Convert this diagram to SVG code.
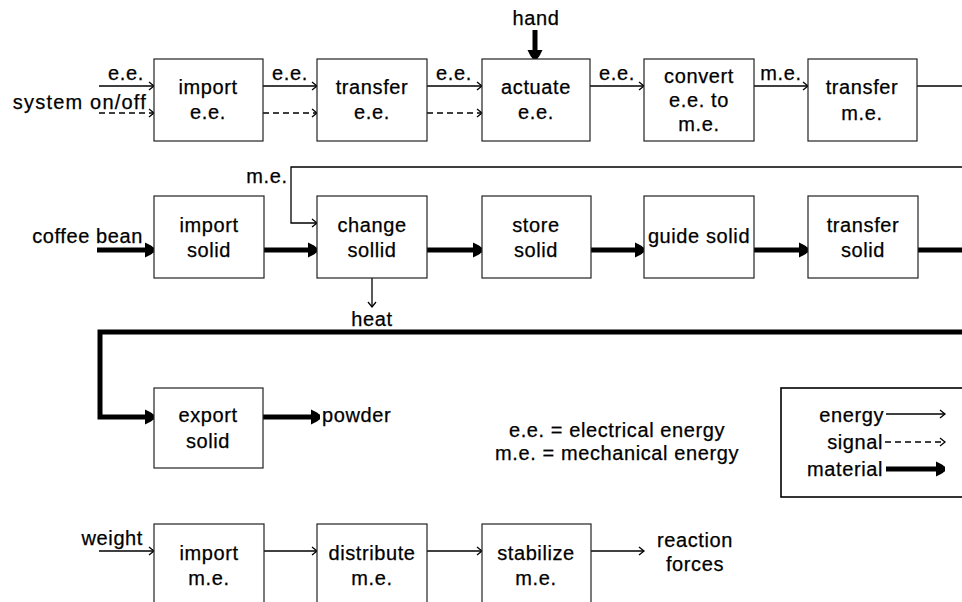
<svg xmlns="http://www.w3.org/2000/svg" width="962" height="602" viewBox="0 0 962 602">
<style>
text{font-family:"Liberation Sans",Arial,sans-serif;font-size:20px;fill:#000;letter-spacing:0.6px;stroke:#000;stroke-width:0.25}
.c{text-anchor:middle}
.e{text-anchor:end}
rect.box{fill:#fff;stroke:#222;stroke-width:1.2}
.en{fill:none;stroke:#000;stroke-width:1.3}
.sg{fill:none;stroke:#000;stroke-width:1.3;stroke-dasharray:6 4}
.mt{fill:none;stroke:#000;stroke-width:5}
</style>
<defs>
<marker id="open" viewBox="0 0 10 10" markerWidth="10" markerHeight="10" refX="8" refY="5" orient="auto" markerUnits="userSpaceOnUse"><path d="M3,1 L8,5 L3,9" fill="none" stroke="#000" stroke-width="1.3"/></marker>
<marker id="solid" viewBox="0 0 12 16" markerWidth="12" markerHeight="16" refX="10" refY="8" orient="auto" markerUnits="userSpaceOnUse"><path d="M1,0.5 L6,3 Q10,5 10,8 Q10,11 6,13 L1,15.5 Z" fill="#000"/></marker>
</defs>
<rect width="962" height="602" fill="#fff"/>

<g id="connectors">
<path class="en" d="M99 86 H154" marker-end="url(#open)"/>
<path class="sg" d="M99 113 H154" marker-end="url(#open)"/>
<path class="en" d="M263 86 H317" marker-end="url(#open)"/>
<path class="sg" d="M263 113 H317" marker-end="url(#open)"/>
<path class="en" d="M427 86 H482" marker-end="url(#open)"/>
<path class="sg" d="M427 113 H482" marker-end="url(#open)"/>
<path class="en" d="M590 86 H644" marker-end="url(#open)"/>
<path class="en" d="M754 86 H808" marker-end="url(#open)"/>
<path class="en" d="M917 86 H962"/>
<path class="mt" d="M535 30 V59" marker-end="url(#solid)"/>
<path class="mt" d="M97 250 H154" marker-end="url(#solid)"/>
<path class="mt" d="M264 250 H317" marker-end="url(#solid)"/>
<path class="mt" d="M427 250 H482" marker-end="url(#solid)"/>
<path class="mt" d="M591 250 H644" marker-end="url(#solid)"/>
<path class="mt" d="M754 250 H808" marker-end="url(#solid)"/>
<path class="mt" d="M918 250 H962"/>
<path class="en" d="M962 167 H291 V223 H317" marker-end="url(#open)"/>
<path class="en" d="M372 278 V307" marker-end="url(#open)"/>
<path class="mt" d="M962 332 H100 V417 H154" marker-end="url(#solid)"/>
<path class="mt" d="M263 417 H320" marker-end="url(#solid)"/>
<path class="en" d="M99 551 H154" marker-end="url(#open)"/>
<path class="en" d="M264 551 H317" marker-end="url(#open)"/>
<path class="en" d="M427 551 H482" marker-end="url(#open)"/>
<path class="en" d="M591 551 H644" marker-end="url(#open)"/>
</g>

<g id="labels">
<text class="c" x="126" y="80">e.e.</text>
<text class="e" x="147" y="109" style="letter-spacing:1.2px">system on/off</text>
<text class="c" x="290" y="80">e.e.</text>
<text class="c" x="454" y="80">e.e.</text>
<text class="c" x="617" y="80">e.e.</text>
<text class="c" x="781" y="80">m.e.</text>
<text class="c" x="536" y="25">hand</text>
<text class="e" x="143" y="243">coffee bean</text>
<text class="c" x="267" y="183">m.e.</text>
<text class="c" x="372" y="326">heat</text>
<text x="322" y="422">powder</text>
<text class="e" x="143" y="545">weight</text>
<text class="c" x="695" y="547">reaction</text>
<text class="c" x="695" y="571">forces</text>
<text class="c" x="617" y="437">e.e. = electrical energy</text>
<text class="c" x="617" y="460">m.e. = mechanical energy</text>
</g>

<g id="import-ee"><rect class="box" x="154" y="59" width="109" height="82"/><text class="c" x="208" y="94">import</text><text class="c" x="208" y="119">e.e.</text></g>
<g id="transfer-ee"><rect class="box" x="317" y="59" width="110" height="82"/><text class="c" x="372" y="94">transfer</text><text class="c" x="372" y="119">e.e.</text></g>
<g id="actuate-ee"><rect class="box" x="482" y="59" width="108" height="82"/><text class="c" x="536" y="94">actuate</text><text class="c" x="536" y="119">e.e.</text></g>
<g id="convert-ee-me"><rect class="box" x="644" y="59" width="110" height="82"/><text class="c" x="699" y="83">convert</text><text class="c" x="699" y="107">e.e. to</text><text class="c" x="699" y="131">m.e.</text></g>
<g id="transfer-me"><rect class="box" x="808" y="59" width="109" height="82"/><text class="c" x="862" y="94">transfer</text><text class="c" x="862" y="120">m.e.</text></g>

<g id="import-solid"><rect class="box" x="154" y="196" width="110" height="82"/><text class="c" x="209" y="232">import</text><text class="c" x="209" y="257">solid</text></g>
<g id="change-sollid"><rect class="box" x="317" y="196" width="110" height="82"/><text class="c" x="372" y="232">change</text><text class="c" x="372" y="257">sollid</text></g>
<g id="store-solid"><rect class="box" x="482" y="196" width="109" height="82"/><text class="c" x="536" y="232">store</text><text class="c" x="536" y="257">solid</text></g>
<g id="guide-solid"><rect class="box" x="644" y="196" width="110" height="82"/><text class="c" x="699" y="243">guide solid</text></g>
<g id="transfer-solid"><rect class="box" x="808" y="196" width="110" height="82"/><text class="c" x="863" y="232">transfer</text><text class="c" x="863" y="257">solid</text></g>

<g id="export-solid"><rect class="box" x="154" y="388" width="109" height="80"/><text class="c" x="208" y="422">export</text><text class="c" x="208" y="448">solid</text></g>

<g id="import-me"><rect class="box" x="154" y="524" width="110" height="90"/><text class="c" x="209" y="560">import</text><text class="c" x="209" y="585">m.e.</text></g>
<g id="distribute-me"><rect class="box" x="317" y="524" width="110" height="90"/><text class="c" x="372" y="560">distribute</text><text class="c" x="372" y="585">m.e.</text></g>
<g id="stabilize-me"><rect class="box" x="482" y="524" width="109" height="90"/><text class="c" x="536" y="560">stabilize</text><text class="c" x="536" y="585">m.e.</text></g>

<g id="legend">
<rect x="781" y="388" width="200" height="109" fill="#fff" stroke="#000" stroke-width="1.6"/>
<text class="e" x="884" y="422">energy</text>
<path class="en" d="M886 414 H945" marker-end="url(#open)"/>
<text class="e" x="883" y="449">signal</text>
<path class="sg" d="M885 442 H945" marker-end="url(#open)"/>
<text class="e" x="883" y="476">material</text>
<path class="mt" d="M886 469 H945" marker-end="url(#solid)"/>
</g>
</svg>
